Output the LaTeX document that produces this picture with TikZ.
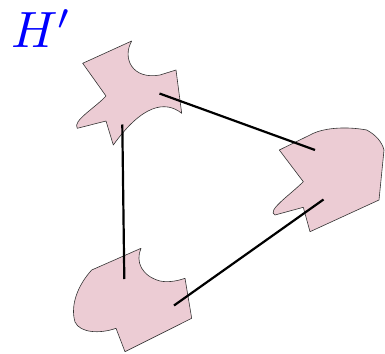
\documentclass[tikz,border=0pt]{standalone}
\usepackage{graphicx}
\definecolor{blobpink}{RGB}{236,204,212}
\tikzset{
  blob/.style={fill=blobpink, draw=black!80, line width=0.6pt, line join=round},
  link/.style={draw=black, line width=2.2pt},
}
\begin{document}
\begin{tikzpicture}[x=1pt,y=-1pt]
\useasboundingbox (0,0) rectangle (385,353);
% top shape
\path[blob] (82.7,63.3) -- (131.7,41) .. controls (122,58) and (132,80) .. (160,75)
  -- (176,70) -- (181.7,113.3) .. controls (165,100) and (142,105) .. (113.3,145)
  -- (106,121) -- (77.3,128.3) .. controls (72,121) and (95,108) .. (106,96) -- cycle;
% right shape
\path[blob] (279.3,150) -- (310,135) .. controls (322,128) and (345,126) .. (366.7,130)
  .. controls (376,135) and (382,142) .. (384,150) -- (379,200) -- (310,231.7)
  -- (303.3,207.3) -- (275,215) .. controls (266,211) and (290,195) .. (303.3,181.7) -- cycle;
% bottom shape
\path[blob] (91.7,270) -- (141,248.3) .. controls (135,262) and (142,276) .. (160,281)
  .. controls (170,283) and (180,280) .. (185,278.3) -- (191.7,318.3) -- (125,351.7)
  -- (116,328.3) .. controls (100,334) and (80,333) .. (75,322)
  .. controls (70,305) and (78,285) .. (91.7,270) -- cycle;
% connector endpoints
\coordinate (tA) at (159.5,93.5);
\coordinate (tB) at (122.3,124.5);
\coordinate (rA) at (315,150);
\coordinate (rB) at (323.5,199.5);
\coordinate (bA) at (124.3,279);
\coordinate (bB) at (174,305.5);
\draw[link] (tA) -- (rA);
\draw[link] (tB) -- (bA);
\draw[link] (bB) -- (rB);
\node[anchor=base west, inner sep=0pt, text=blue] (lbl) at (11,48) {\scalebox{5.1}{$H'$}};
\end{tikzpicture}
\end{document}
